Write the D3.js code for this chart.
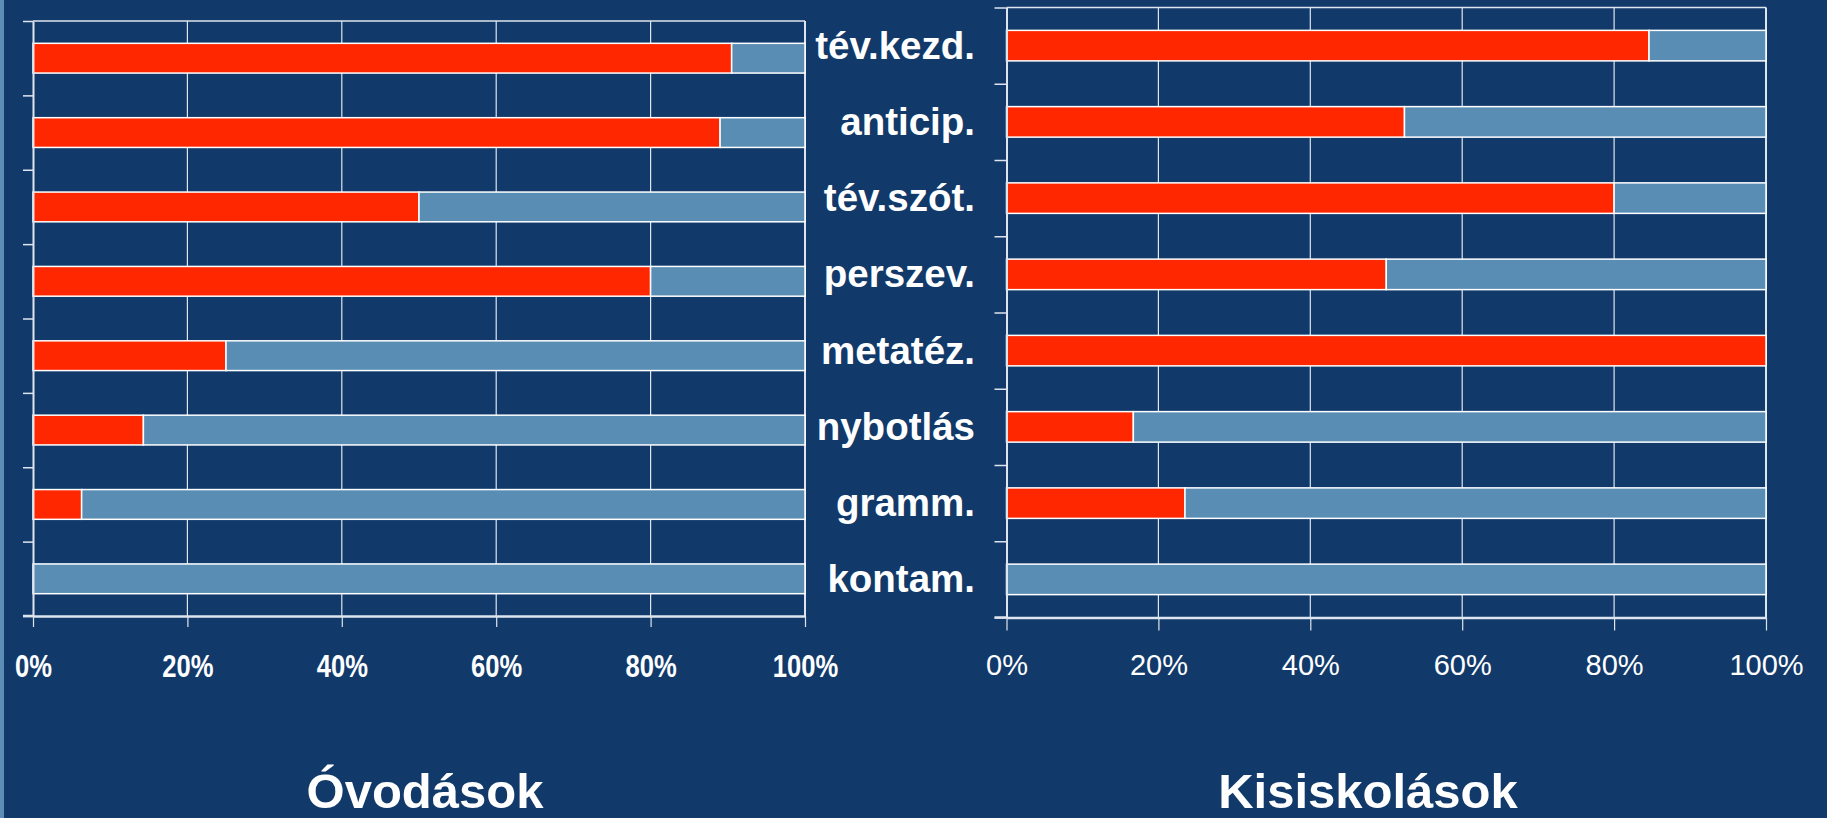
<!DOCTYPE html>
<html>
<head>
<meta charset="utf-8">
<script src="https://cdn.jsdelivr.net/npm/d3@7"></script>
<style>
  html, body { margin: 0; padding: 0; background: #113a6b; }
  svg { display: block; }
</style>
</head>
<body>
<svg id="chart" width="1827" height="818"></svg>
<script>
// ---- data ----
const categories = ["tév.kezd.", "anticip.", "tév.szót.", "perszev.", "metatéz.", "nybotlás", "gramm.", "kontam."];
const ovodasRed  = [0.905, 0.89, 0.50, 0.80, 0.25, 0.143, 0.063, 0];
const ovodasBlue = [0.095, 0.11, 0.50, 0.20, 0.75, 0.857, 0.937, 1];
const kisisRed   = [0.846, 0.524, 0.80, 0.50, 1.00, 0.167, 0.235, 0];
const kisisBlue  = [0.154, 0.476, 0.20, 0.50, 0.00, 0.833, 0.765, 1];
const xTicks = [0, 0.2, 0.4, 0.6, 0.8, 1];
const titles = ["Óvodások", "Kisiskolások"];

const BG = "#113a6b", RED = "#ff2700", BLUE = "#5a8db4", GRID = "#dfe5ee";

const svg = d3.select("#chart");
svg.append("rect").attr("width", 1827).attr("height", 818).attr("fill", BG);
svg.append("rect").attr("x", 0).attr("y", 0).attr("width", 4).attr("height", 818).attr("fill", "#5b8db5");

const panels = [
  { red: ovodasRed, blue: ovodasBlue, x0: 33, x1: 805, y0: 21, y1: 616, tickLen: 10,
    labelFont: "bold 32px 'Liberation Sans', Arial, sans-serif", labelScale: 0.8, labelY: 61,
    title: titles[0], titleX: 425 },
  { red: kisisRed, blue: kisisBlue, x0: 1006.5, x1: 1766, y0: 7.5, y1: 617.5, tickLen: 12,
    labelFont: "29px 'Liberation Sans', Arial, sans-serif", labelScale: 1, labelY: 57.5,
    title: titles[1], titleX: 1368 }
];

panels.forEach((p, pi) => {
  const g = svg.append("g");
  const x = d3.scaleLinear().domain([0, 1]).range([p.x0, p.x1]);
  const y = d3.scaleBand().domain(categories).range([p.y0, p.y1]).paddingInner(0.6).paddingOuter(0.3);
  const yb = d3.scaleLinear().domain([0, categories.length]).range([p.y0, p.y1]);

  // top border
  g.append("line").attr("x1", p.x0).attr("x2", p.x1).attr("y1", p.y0).attr("y2", p.y0)
    .attr("stroke", GRID).attr("stroke-width", 1.5);

  // vertical gridlines
  g.selectAll(".grid").data(xTicks.slice(1)).join("line")
    .attr("x1", d => x(d)).attr("x2", d => x(d))
    .attr("y1", p.y0).attr("y2", p.y1)
    .attr("stroke", GRID).attr("stroke-width", d => d === 1 ? 2 : 1.2);

  // bars
  const rows = categories.map((c, i) => ({ c, r: p.red[i], b: p.blue[i] }));
  g.selectAll(".red").data(rows.filter(d => d.r > 0)).join("rect")
    .attr("x", x(0)).attr("y", d => y(d.c))
    .attr("width", d => x(d.r) - x(0)).attr("height", y.bandwidth())
    .attr("fill", RED).attr("stroke", "#ffffff").attr("stroke-width", 1.5);
  g.selectAll(".blue").data(rows.filter(d => d.b > 0)).join("rect")
    .attr("x", d => x(d.r)).attr("y", d => y(d.c))
    .attr("width", d => x(d.r + d.b) - x(d.r)).attr("height", y.bandwidth())
    .attr("fill", BLUE).attr("stroke", "#ffffff").attr("stroke-width", 1.5);

  // left axis (ticks at band boundaries)
  const ya = g.append("g").attr("transform", `translate(${p.x0},0)`)
    .call(d3.axisLeft(yb).tickValues(d3.range(categories.length + 1)).tickFormat("").tickSize(p.tickLen).tickSizeOuter(0));
  ya.select(".domain").attr("stroke", GRID).attr("stroke-width", 2);
  ya.selectAll(".tick line").attr("stroke", GRID).attr("stroke-width", 1.5);

  // bottom axis
  const xa = g.append("g").attr("transform", `translate(0,${p.y1})`)
    .call(d3.axisBottom(x).tickValues(xTicks).tickFormat(d3.format(".0%")).tickSize(p.tickLen + 1).tickSizeOuter(0));
  xa.select(".domain").attr("stroke", GRID).attr("stroke-width", 2.5);
  xa.selectAll(".tick line").attr("stroke", GRID).attr("stroke-width", 1.2);
  xa.selectAll(".tick text")
    .attr("y", p.labelY).attr("dy", null)
    .attr("transform", `scale(${p.labelScale},1)`)
    .attr("fill", "#ffffff")
    .style("font", p.labelFont);
  xa.append("line").attr("x1", p.x0 - p.tickLen).attr("x2", p.x0).attr("y1", 0).attr("y2", 0)
    .attr("stroke", GRID).attr("stroke-width", 2.5);

  // title
  svg.append("text").attr("x", p.titleX).attr("y", 808).attr("text-anchor", "middle")
    .attr("fill", "#ffffff").style("font", "bold 49px 'Liberation Sans', Arial, sans-serif")
    .text(p.title);

  // category labels (placed beside right panel)
  if (pi === 1) {
    svg.selectAll(".cat").data(categories).join("text")
      .attr("x", 975).attr("y", d => y(d) + y.bandwidth() / 2 + 13)
      .attr("text-anchor", "end").attr("fill", "#ffffff")
      .style("font", "bold 38.5px 'Liberation Sans', Arial, sans-serif")
      .text(d => d);
  }
});
</script>
</body>
</html>
